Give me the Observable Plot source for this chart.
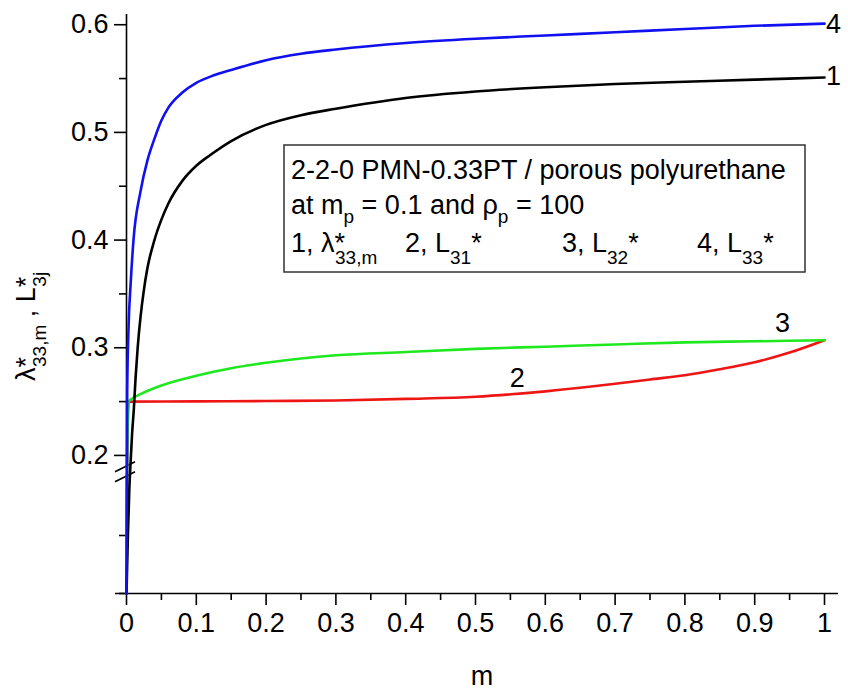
<!DOCTYPE html>
<html><head><meta charset="utf-8">
<script src="https://cdn.jsdelivr.net/npm/d3@7"></script>
<script src="https://cdn.jsdelivr.net/npm/@observablehq/plot@0.6"></script>
<style>body{margin:0;background:#fff;} svg{display:block;}</style>
</head><body><div id="chart"></div>
<script>
// curve 4 (blue, L33*)
const blueM = [0, 0.0003, 0.0007, 0.001, 0.003, 0.006, 0.01, 0.02, 0.03, 0.04, 0.05, 0.06, 0.08, 0.1, 0.125, 0.15, 0.2, 0.25, 0.3, 0.4, 0.5, 0.6, 0.7, 0.8, 0.9, 1];
const blueV = [0, 0.12, 0.2, 0.26, 0.32, 0.36, 0.40, 0.445, 0.474, 0.494, 0.511, 0.523, 0.537, 0.546, 0.553, 0.558, 0.567, 0.573, 0.577, 0.583, 0.587, 0.590, 0.593, 0.596, 0.599, 0.601];
// curve 1 (black, lambda33,m*)
const blackM = [0, 0.002, 0.004, 0.006, 0.008, 0.0105, 0.013, 0.016, 0.02, 0.025, 0.03, 0.04, 0.05, 0.06, 0.08, 0.1, 0.12, 0.15, 0.2, 0.25, 0.3, 0.4, 0.5, 0.6, 0.7, 0.8, 0.9, 1];
const blackV = [0, 0.1, 0.16, 0.195, 0.22, 0.243, 0.272, 0.3, 0.328, 0.354, 0.374, 0.4, 0.419, 0.434, 0.455, 0.469, 0.479, 0.492, 0.507, 0.516, 0.522, 0.532, 0.538, 0.542, 0.545, 0.547, 0.549, 0.551];
// curve 3 (green, L32*)
const greenM = [0, 0.001, 0.003, 0.01, 0.02, 0.05, 0.1, 0.15, 0.2, 0.25, 0.3, 0.4, 0.5, 0.6, 0.7, 0.8, 0.9, 1];
const greenV = [0, 0.2, 0.25, 0.2535, 0.257, 0.265, 0.274, 0.281, 0.286, 0.29, 0.293, 0.296, 0.299, 0.301, 0.303, 0.305, 0.306, 0.307];
// curve 2 (red, L31*)
const redM = [0, 0.001, 0.003, 0.1, 0.2, 0.3, 0.4, 0.5, 0.6, 0.7, 0.75, 0.8, 0.85, 0.9, 0.95, 1];
const redV = [0, 0.2, 0.25, 0.2502, 0.2505, 0.251, 0.2525, 0.2545, 0.2595, 0.2665, 0.2705, 0.2745, 0.28, 0.2865, 0.2955, 0.307];

const curveLabelText = ["1", "2", "3", "4"];
const curveLabelM = [1.013, 0.56, 0.94, 1.013];
const curveLabelV = [0.5525, 0.272, 0.323, 0.6005];

const xMajorTicks = [0, 0.1, 0.2, 0.3, 0.4, 0.5, 0.6, 0.7, 0.8, 0.9, 1];
const xMinorTicks = [0.05, 0.15, 0.25, 0.35, 0.45, 0.55, 0.65, 0.75, 0.85, 0.95];
const yMajorTicks = [0.2, 0.3, 0.4, 0.5, 0.6];
const yMinorTicks = [0, 0.1, 0.25, 0.35, 0.45, 0.55];

const FONT = "Liberation Sans, Arial, sans-serif";
const toRows = (ms, vs) => ms.map((m, i) => ({m, v: vs[i]}));
const labels = curveLabelText.map((t, i) => ({t, m: curveLabelM[i], v: curveLabelV[i]}));

const plot = Plot.plot({
  width: 848, height: 698,
  marginLeft: 126, marginRight: 24, marginTop: 14, marginBottom: 105,
  style: {fontFamily: FONT, background: "#fff", color: "#000", overflow: "visible"},
  x: {domain: [0, 1], axis: null},
  y: {type: "linear", domain: [0, 0.1, 0.186, 0.6095], range: [593, 535, 470, 14], axis: null},
  marks: [
    Plot.ruleY([0], {x1: -0.0158, x2: 1.02, stroke: "#000", strokeWidth: 1.6}),
    Plot.ruleX([0], {y1: 0, y2: 0.6095, stroke: "#000", strokeWidth: 1.6}),
    Plot.axisX(xMajorTicks, {tickSize: 12, tickPadding: 7, fontSize: 27, strokeWidth: 1.6, tickFormat: d => String(d), label: null}),
    Plot.axisX(xMinorTicks, {tickSize: 7, strokeWidth: 1.6, tickFormat: () => "", label: null}),
    Plot.axisY(yMajorTicks, {tickSize: 12, tickPadding: 6, fontSize: 27, strokeWidth: 1.6, tickFormat: d => String(d), label: null}),
    Plot.axisY(yMinorTicks, {tickSize: 7, strokeWidth: 1.6, tickFormat: () => "", label: null}),
    Plot.line(toRows(redM, redV), {x: "m", y: "v", stroke: "#ee1515", strokeWidth: 2.6, curve: "monotone-x"}),
    Plot.line(toRows(greenM, greenV), {x: "m", y: "v", stroke: "#1ee81e", strokeWidth: 2.6, curve: "monotone-x"}),
    Plot.line(toRows(blackM, blackV), {x: "m", y: "v", stroke: "#000", strokeWidth: 2.6, curve: "monotone-x"}),
    Plot.line(toRows(blueM, blueV), {x: "m", y: "v", stroke: "#1010f0", strokeWidth: 2.6, curve: "monotone-x"}),
    Plot.text(labels, {x: "m", y: "v", text: "t", fontSize: 27, fill: "#000", textAnchor: "middle"})
  ]
});
document.getElementById("chart").appendChild(plot);

const svg = d3.select(plot);
const sx = plot.scale("x"), sy = plot.scale("y");
const x0 = sx.apply(0), yb = sy.apply(0.186);

// axis break marker, drawn beneath the curves
const br = svg.insert("g", "g[aria-label=line]");
br.append("polygon")
  .attr("points", [[x0 - 4, yb + 5], [x0 + 4, yb + 1], [x0 + 4, yb - 3], [x0 - 4, yb + 1]].map(p => p.join(",")).join(" "))
  .attr("fill", "#fff");
[[1.7, -8.3], [11.7, 1.7]].forEach(([a, b]) => {
  br.append("line").attr("x1", x0 - 11).attr("y1", yb + a).attr("x2", x0 + 9).attr("y2", yb + b)
    .attr("stroke", "#000").attr("stroke-width", 1.6);
});

// x axis title
svg.append("text").attr("x", 482).attr("y", 685).attr("text-anchor", "middle")
  .attr("font-size", 27).attr("font-family", FONT).attr("fill", "#000").text("m");

// y axis title
const yl = svg.append("text").attr("transform", "translate(35,381) rotate(-90)")
  .attr("text-anchor", "start")
  .attr("font-size", 27).attr("font-family", FONT).attr("fill", "#000");
yl.append("tspan").text("λ");
yl.append("tspan").text("*");
yl.append("tspan").attr("dx", -10).attr("dy", 11).attr("font-size", 19).text("33,m");
yl.append("tspan").attr("dy", -11).text(" , L");
yl.append("tspan").text("*");
yl.append("tspan").attr("dx", -10).attr("dy", 11).attr("font-size", 19).text("3j");

// legend box
const LF = 27, SF = 19;
const lg = svg.append("g").attr("font-family", FONT).attr("fill", "#000").attr("text-anchor", "start");
lg.append("rect").attr("x", 284).attr("y", 145).attr("width", 521).attr("height", 127)
  .attr("fill", "#fff").attr("stroke", "#333").attr("stroke-width", 1.5);
lg.append("text").attr("x", 291).attr("y", 179).attr("font-size", LF).text("2-2-0 PMN-0.33PT / porous polyurethane");
const l2 = lg.append("text").attr("x", 291).attr("y", 214).attr("font-size", LF);
l2.append("tspan").text("at m");
l2.append("tspan").attr("dy", 9).attr("font-size", SF).text("p");
l2.append("tspan").attr("dy", -9).text(" = 0.1 and ρ");
l2.append("tspan").attr("dy", 9).attr("font-size", SF).text("p");
l2.append("tspan").attr("dy", -9).text(" = 100");
const t1 = lg.append("text").attr("x", 291).attr("y", 252).attr("font-size", LF);
t1.append("tspan").text("1, λ");
t1.append("tspan").text("*");
t1.append("tspan").attr("dx", -10).attr("dy", 12).attr("font-size", SF).text("33,m");
[["2, L", "31", 405], ["3, L", "32", 562], ["4, L", "33", 697]].forEach(([a, sub, x]) => {
  const t = lg.append("text").attr("x", x).attr("y", 252).attr("font-size", LF);
  t.append("tspan").text(a);
  t.append("tspan").attr("dy", 12).attr("font-size", SF).text(sub);
  t.append("tspan").attr("dy", -12).text("*");
});
</script></body></html>
